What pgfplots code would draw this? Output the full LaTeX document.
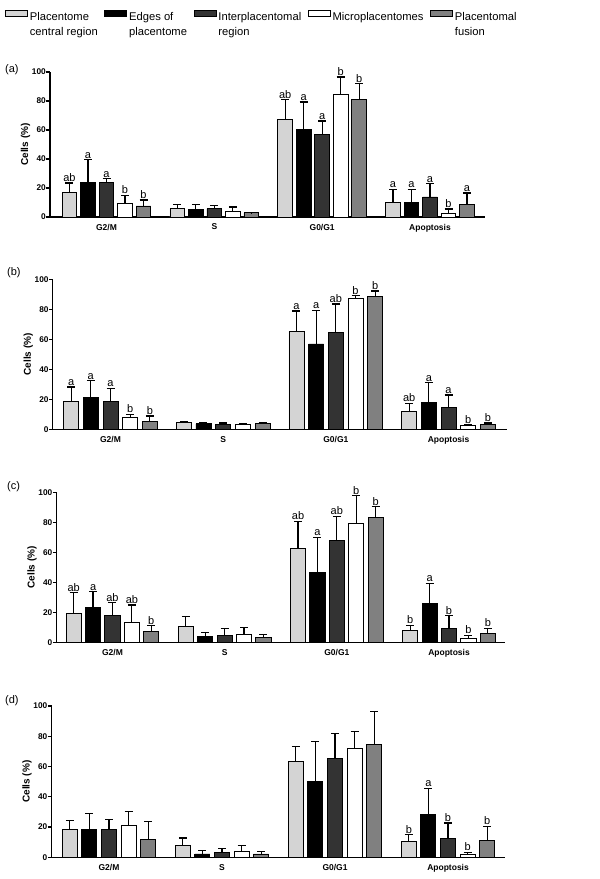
\documentclass[border=0pt]{standalone}
\usepackage{pgfplots}
\pgfplotsset{compat=1.18}
\usepackage{pgfplotstable}
\usepackage{fontspec}
\setmainfont{Liberation Sans}

\definecolor{cLight}{HTML}{D4D4D4}
\definecolor{cBlack}{HTML}{000000}
\definecolor{cDark}{HTML}{333333}
\definecolor{cWhite}{HTML}{FFFFFF}
\definecolor{cMid}{HTML}{808080}

\newcommand\fTick{\fontsize{8.3bp}{10bp}\selectfont\bfseries}
\newcommand\fCat{\fontsize{8.5bp}{10bp}\selectfont\bfseries}
\newcommand\fYlab{\fontsize{10bp}{12bp}\selectfont\bfseries}
\newcommand\fLetter{\fontsize{11bp}{13bp}\selectfont}
\newcommand\fLegend{\fontsize{11.2bp}{15bp}\selectfont}
\newcommand\fPanel{\fontsize{11bp}{13bp}\selectfont}
\newcommand\two[2]{\vtop{\hbox{#1}\hbox{#2}}}

% x = category; c = bar value; e = top of error bar; l = letter
\pgfplotstableread{
x c1 c2 c3 c4 c5 e1 e2 e3 e4 e5 l1 l2 l3 l4 l5
0 16.6 23.5 23.6 9.2 7.6 23.5 39.6 26.5 15.0 11.7 ab a a b b
1 5.7 5.1 5.7 3.5 2.8 8.8 8.8 7.9 6.9 3.1 {} {} {} {} {}
2 67.2 60.5 57.0 84.6 81.0 81.0 79.3 66.2 96.6 92.0 ab a a b b
3 10.3 10.3 13.8 2.6 8.5 19.1 19.1 23.0 5.5 16.6 a a a b a
}\tabA
\pgfplotstableread{
x c1 c2 c3 c4 c5 e1 e2 e3 e4 e5 l1 l2 l3 l4 l5
0 18.7 21.3 18.5 8.0 5.5 28.2 32.4 27.3 10.0 8.9 a a a b b
1 4.7 3.6 3.1 3.1 3.6 5.3 4.7 4.2 3.6 4.2 {} {} {} {} {}
2 65.1 56.9 64.7 87.1 88.7 78.9 79.3 83.5 89.1 92.2 a a ab b b
3 12.0 17.8 14.4 2.4 3.3 17.3 31.1 22.9 3.1 4.2 ab a a b b
}\tabB
\pgfplotstableread{
x c1 c2 c3 c4 c5 e1 e2 e3 e4 e5 l1 l2 l3 l4 l5
0 19.5 23.5 17.7 13.2 7.2 33.2 33.9 26.5 25.0 11.2 ab a ab ab b
1 10.5 4.3 4.7 5.4 3.4 17.4 6.5 9.2 9.9 5.2 {} {} {} {} {}
2 62.3 46.6 67.9 79.0 83.4 80.8 70.1 83.9 97.7 90.5 ab a ab b b
3 7.9 25.9 9.4 2.8 6.1 11.5 39.5 17.9 4.8 9.4 b a b b b
}\tabC
\pgfplotstableread{
x c1 c2 c3 c4 c5 e1 e2 e3 e4 e5 l1 l2 l3 l4 l5
0 18.2 18.7 18.2 21.3 12.0 24.2 28.7 25.1 30.2 23.5 {} {} {} {} {}
1 7.8 2.2 3.1 4.0 2.2 12.7 4.4 5.8 7.8 4.0 {} {} {} {} {}
2 63.1 50.2 65.5 71.7 74.4 73.3 76.4 81.7 83.1 96.4 {} {} {} {} {}
3 10.4 28.2 12.4 2.0 11.3 14.9 45.5 22.7 3.3 20.4 b a b b b
}\tabD

% #1 table, #2 index, #3 colour, #4 offset multiplier, #5 step (axis units), #6 bar width
\newcommand\series[6]{%
 \addplot[ybar, bar width=#6, bar shift=0pt, fill=#3, draw=black, line width=0.9bp,
   error bars/.cd, y dir=plus, y explicit, error mark=-,
   error bar style={line width=1.2bp, black},
   error mark options={rotate=90, line width=1.2bp, black, mark size=4bp}]
   table[x expr={\thisrow{x}+(#4)*(#5)}, y=c#2, y error plus expr={\thisrow{e#2}-\thisrow{c#2}}] {#1};
 \addplot[ybar, bar width=1bp, bar shift=0pt, draw=none, fill=none, forget plot,
   nodes near coords, point meta=explicit symbolic,
   every node near coord/.style={font=\fLetter, inner sep=1.2bp, text=black, anchor=south}]
   table[x expr={\thisrow{x}+(#4)*(#5)}, y=e#2, meta=l#2] {#1};
}
\newcommand\allseries[3]{% table, step, width
 \series{#1}{1}{cLight}{-2}{#2}{#3}
 \series{#1}{2}{cBlack}{-1}{#2}{#3}
 \series{#1}{3}{cDark}{0}{#2}{#3}
 \series{#1}{4}{cWhite}{1}{#2}{#3}
 \series{#1}{5}{cMid}{2}{#2}{#3}
}

\pgfplotsset{
 panel/.style={
  scale only axis, anchor=south west,
  ymin=0, ymax=100, ytick={0,20,40,60,80,100},
  xtick={0,1,2,3}, xticklabels={G2/M,S,G0/G1,Apoptosis},
  axis lines=left, axis line style={-, line width=1.2bp, black},
  tick align=outside, major tick length=3.5bp,
  x tick style={draw=none}, y tick style={line width=1.2bp, black},
  yticklabel style={font=\fTick, inner sep=0.5bp},
  xticklabel style={font=\fCat},
  ylabel={Cells (\%)}, ylabel style={font=\fYlab, inner sep=1bp},
  /pgf/number format/assume math mode=true,
  clip=false,
 }
}

\begin{document}
\begin{tikzpicture}
\useasboundingbox (0,0) rectangle (600bp,-879bp);

% (a)
\begin{axis}[panel, at={(50bp,-217bp)}, width=435bp, height=145bp,
  xmin=-0.524, xmax=3.51,
  legend columns=5, legend cell align=left,
  legend image code/.code={\draw[#1, line width=0.9bp] (0bp,1bp) rectangle (22bp,7bp);},
  legend style={at={(axis description cs:-0.10345,1.4276)}, anchor=north west,
    draw=none, fill=none, inner sep=0pt, outer sep=0pt, font=\fLegend,
    nodes={inner sep=0pt, outer sep=0pt},
    /tikz/every odd column/.append style={column sep=2bp},
    /tikz/every even column/.append style={column sep=6.5bp}},
  legend entries={\two{Placentome}{central region}, \two{Edges of}{placentome}, \two{Interplacentomal}{region}, Microplacentomes, \two{Placentomal}{fusion}}]
\allseries{\tabA}{0.1716}{14.7bp}
\end{axis}

% (b)
\begin{axis}[panel, at={(52.7bp,-429.3bp)}, width=454.3bp, height=150bp,
  xmin=-0.513, xmax=3.519]
\allseries{\tabB}{0.1748}{15bp}
\end{axis}

% (c)
\begin{axis}[panel, at={(56.5bp,-642.5bp)}, width=448.5bp, height=150.2bp,
  xmin=-0.499, xmax=3.499]
\allseries{\tabC}{0.1730}{15.2bp}
\end{axis}

% (d)
\begin{axis}[panel, at={(51.5bp,-857.3bp)}, width=453.5bp, height=151.3bp,
  xmin=-0.509, xmax=3.504]
\allseries{\tabD}{0.1735}{15bp}
\end{axis}

\node[anchor=west, font=\fPanel, inner sep=0pt] at (5bp,-70bp) {(a)};
\node[anchor=west, font=\fPanel, inner sep=0pt] at (7bp,-273bp) {(b)};
\node[anchor=west, font=\fPanel, inner sep=0pt] at (7bp,-487bp) {(c)};
\node[anchor=west, font=\fPanel, inner sep=0pt] at (5bp,-701bp) {(d)};
\end{tikzpicture}
\end{document}
